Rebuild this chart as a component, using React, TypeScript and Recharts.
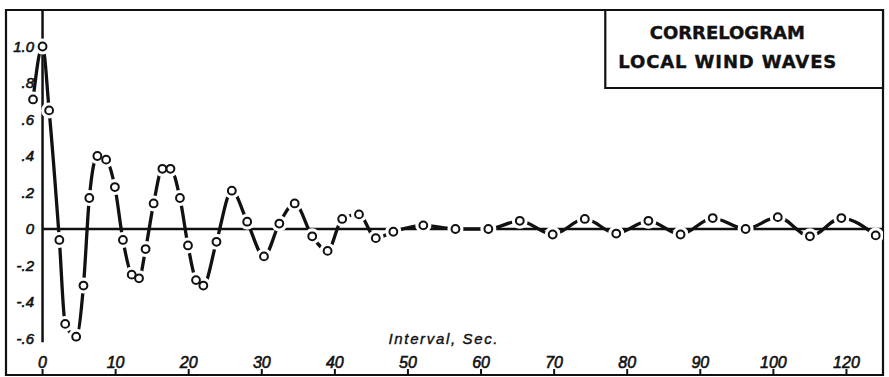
import React from 'react';
import { ComposedChart, Line, XAxis, YAxis, ReferenceLine, ReferenceArea } from 'recharts';

// Lag (seconds) and autocorrelation coefficient of each plotted point
const lagSec = [
  -1.3, 0, 0.9, 2.3, 3.1, 4.6, 5.6, 6.4, 7.5, 8.7, 9.9, 11.0, 12.2, 13.2, 14.1,
  15.2, 16.4, 17.5, 18.8, 19.9, 21.0, 22.0, 23.8, 25.9, 28.0, 30.3, 32.4, 34.5,
  36.9, 39.0, 41.0, 43.3, 45.6, 48.0, 52.1, 56.5, 61.0, 65.3, 69.8, 74.2, 78.5,
  82.9, 87.3, 91.7, 96.2, 100.6, 105.0, 109.3, 114.0,
];
const correlation = [
  0.71, 1.0, 0.65, -0.06, -0.52, -0.59, -0.31, 0.17, 0.4, 0.38, 0.23, -0.06,
  -0.25, -0.27, -0.11, 0.14, 0.33, 0.33, 0.17, -0.09, -0.28, -0.31, -0.07, 0.21,
  0.04, -0.15, 0.03, 0.14, -0.04, -0.12, 0.055, 0.08, -0.05, -0.015, 0.02, 0.0,
  0.0, 0.045, -0.03, 0.055, -0.025, 0.045, -0.03, 0.06, 0.0, 0.065, -0.04, 0.06,
  -0.035,
];

// Axis ticks and the labels printed at them
const xTicks = [0, 10, 20, 30, 40, 50, 60, 70, 80, 90, 100, 110];
const xTickLabels = ['0', '10', '20', '30', '40', '50', '60', '70', '80', '90', '100', '120'];
const yTicks = [1.0, 0.8, 0.6, 0.4, 0.2, 0, -0.2, -0.4, -0.6];
const yTickLabels = ['1.0', '.8', '.6', '.4', '.2', '0', '-.2', '-.4', '-.6'];

const titleLines = ['CORRELOGRAM', 'LOCAL WIND WAVES'];
const axisTitle = 'Interval, Sec.';

const data = lagSec.map((t, i) => ({ t, r: correlation[i] }));

const X_DOMAIN: [number, number] = [-5, 115];
const Y_DOMAIN: [number, number] = [-0.8, 1.2];

const INK = '#111';
const LETTER_FONT = '"Liberation Sans", Arial, sans-serif';
const TITLE_FONT = '"DejaVu Sans", sans-serif';

// hand-lettered look: regular italic with a thin outline to thicken strokes
const lettering = {
  fontStyle: 'italic',
  fontFamily: LETTER_FONT,
  fill: INK,
  stroke: INK,
  strokeWidth: 0.6,
};

const XTick = (props: any) => {
  const { x, y, payload } = props;
  const idx = xTicks.indexOf(payload.value);
  return (
    <text x={x} y={y} textAnchor="middle" fontSize={16} {...lettering}>
      {xTickLabels[idx]}
    </text>
  );
};

const YTick = (props: any) => {
  const { x, y, payload } = props;
  const idx = yTicks.indexOf(payload.value);
  return (
    <text x={x} y={y} dy={5} textAnchor="end" fontSize={15} {...lettering}>
      {yTickLabels[idx]}
    </text>
  );
};

const IntervalTitle = (props: any) => {
  const vb = props.viewBox || {};
  return (
    <text x={vb.x + 437} y={vb.y - 30} textAnchor="middle" fontSize={15}
      {...lettering} strokeWidth={0.4} textLength={109} lengthAdjust="spacing">
      {axisTitle}
    </text>
  );
};

const TitleBox = (props: any) => {
  const vb = props.viewBox || {};
  const cx = vb.x + 122;
  return (
    <g>
      <text x={cx} y={vb.y + 29} textAnchor="middle" fontSize={18} fontWeight="bold"
        fontFamily={TITLE_FONT} fill={INK} stroke={INK} strokeWidth={0.4}>
        {titleLines[0]}
      </text>
      <text x={cx} y={vb.y + 58} textAnchor="middle" fontSize={18} fontWeight="bold"
        fontFamily={TITLE_FONT} fill={INK} stroke={INK} strokeWidth={0.4}
        textLength={218} lengthAdjust="spacing">
        {titleLines[1]}
      </text>
    </g>
  );
};

// white halo that opens a gap in the curve around each point
const HaloDot = (props: any) => {
  const { cx, cy, index } = props;
  if (cx == null || cy == null) return <g key={`h${index}`} />;
  return <circle key={`h${index}`} cx={cx} cy={cy} r={8} fill="#fff" stroke="none" />;
};

const OpenDot = (props: any) => {
  const { cx, cy, index } = props;
  if (cx == null || cy == null) return <g key={`o${index}`} />;
  return <circle key={`o${index}`} cx={cx} cy={cy} r={3.9} fill="#fff" stroke={INK} strokeWidth={2} />;
};

export default function App() {
  return (
    <div style={{ position: 'absolute', left: 0, top: 0, background: '#fff' }}>
      <ComposedChart width={889} height={377} data={data}
        margin={{ top: 10, right: 6, bottom: 2, left: 6 }}>
        <XAxis dataKey="t" type="number" domain={X_DOMAIN} ticks={xTicks}
          allowDataOverflow orientation="bottom" mirror height={1}
          axisLine={false} tickLine={{ stroke: INK, strokeWidth: 2 }}
          tickSize={6} tickMargin={1} tick={<XTick />} interval={0}
          label={<IntervalTitle />} />
        <YAxis type="number" domain={Y_DOMAIN} ticks={yTicks} allowDataOverflow
          orientation="left" mirror width={1} axisLine={false} tickLine={false}
          tickSize={0} tickMargin={28} tick={<YTick />} interval={0} />

        <Line dataKey="r" type="monotone" stroke={INK} strokeWidth={3.3} dot={false}
          activeDot={false} isAnimationActive={false} zIndex={400} />
        <Line dataKey="r" type="monotone" stroke="none" dot={<HaloDot />}
          activeDot={false} isAnimationActive={false} zIndex={410} />

        <ReferenceLine segment={[{ x: 0, y: -0.62 }, { x: 0, y: 1.2 }]}
          stroke={INK} strokeWidth={2.5} zIndex={420} />

        <Line dataKey="r" type="monotone" stroke="none" dot={<OpenDot />}
          activeDot={false} isAnimationActive={false} zIndex={430} />

        <ReferenceLine segment={[{ x: 0, y: 0 }, { x: 115, y: 0 }]}
          stroke={INK} strokeWidth={2.5} zIndex={440} />

        <ReferenceArea x1={X_DOMAIN[0]} x2={X_DOMAIN[1]} y1={Y_DOMAIN[0]} y2={Y_DOMAIN[1]}
          fill="none" fillOpacity={0} stroke={INK} strokeWidth={2.2} zIndex={450} />
        <ReferenceArea x1={77} x2={115} y1={0.7726} y2={1.2}
          fill="#fff" fillOpacity={1} stroke={INK} strokeWidth={2.2} zIndex={460}
          label={<TitleBox />} />
      </ComposedChart>
    </div>
  );
}
